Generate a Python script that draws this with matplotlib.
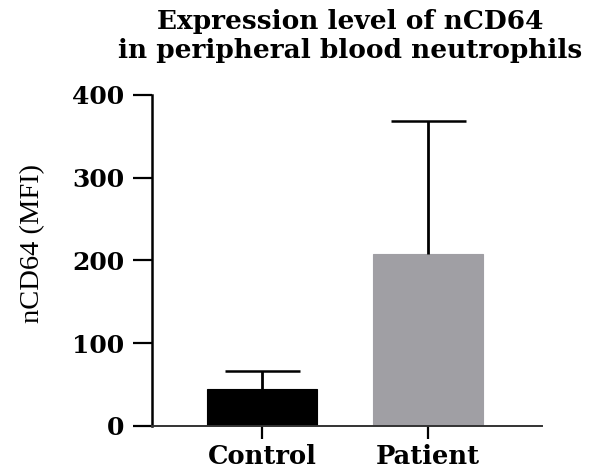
import matplotlib
matplotlib.use("Agg")
from matplotlib import pyplot as plt

groups = ["Control", "Patient"]
means = [45, 208]
sd = [21, 160]
colors = ["#000000", "#a09fa4"]
yticks = [0, 100, 200, 300, 400]

fig = plt.figure(figsize=(5.98, 4.70), dpi=100)
ax = fig.add_axes([0.254, 0.094, 0.652, 0.704])

x = list(range(len(groups)))
ax.bar(x, means, width=0.663, color=colors, edgecolor=colors, linewidth=0.8, zorder=2)
eb = ax.errorbar(x, means, yerr=[[0, 0], sd], fmt="none", ecolor="black",
                 elinewidth=2, capsize=27, capthick=1.8, zorder=3)
# only the upper cap, the lower one sits on the bar top
eb[1][0].set_visible(False)

ax.set_xlim(-0.663, 1.687)
ax.set_ylim(0, 400)
ax.set_yticks(yticks)
ax.set_xticks(x)
ax.set_xticklabels(groups)

for s in ["top", "right"]:
    ax.spines[s].set_visible(False)
ax.spines["left"].set_linewidth(1.8)
ax.spines["bottom"].set_linewidth(1.4)
ax.spines["bottom"].set_color("#333333")
ax.tick_params(axis="y", length=14, width=1.6, pad=6)
ax.tick_params(axis="x", length=9, width=1.6, pad=4)

for lab in ax.get_yticklabels():
    lab.set_fontfamily("DejaVu Serif")
    lab.set_fontweight("bold")
    lab.set_fontsize(18)
for lab in ax.get_xticklabels():
    lab.set_fontfamily("DejaVu Serif")
    lab.set_fontweight("bold")
    lab.set_fontsize(18.5)

ax.set_ylabel("nCD64 (MFI)", fontfamily="Liberation Serif", fontsize=20.5)
ax.yaxis.set_label_coords(-0.275, 0.551)
fig.suptitle("Expression level of nCD64\nin peripheral blood neutrophils",
             x=0.585, y=0.98, fontfamily="DejaVu Serif", fontweight="bold",
             fontsize=19, linespacing=1.18)

fig.savefig("out.png", dpi=100)
